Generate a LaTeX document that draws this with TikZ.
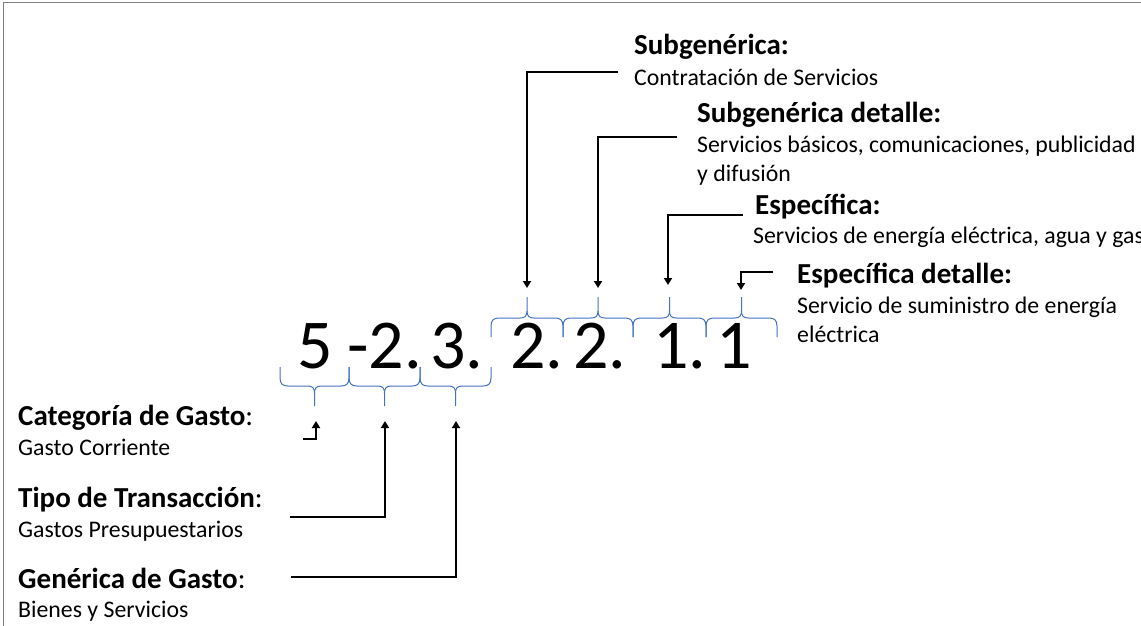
\documentclass[tikz,border=0pt]{standalone}
\usepackage{fontspec}
\setmainfont{Carlito}
\usetikzlibrary{arrows.meta}
\definecolor{braceblue}{HTML}{4472C4}
\definecolor{framegray}{HTML}{808080}
\tikzset{
  head/.style={anchor=base west, inner sep=0pt, font=\fontsize{29}{34}\selectfont\bfseries},
  desc/.style={anchor=base west, inner sep=0pt, font=\fontsize{23.8}{29}\selectfont},
  digit/.style={anchor=base west, inner sep=0pt, font=\fontsize{70}{82}\selectfont},
  pointer/.style={line width=2.4pt, -{Triangle[length=7pt,width=8pt]}},
  curly/.style={braceblue, line width=1pt},
}
% brace below the digits: #1 left end, #2 right end (tip points down)
\newcommand\lowerbrace[2]{%
  \draw[curly] (#1,367) -- (#1,378) .. controls (#1,384) and (#1+3,386) .. (#1+8,386)
    -- (#1/2+#2/2-7,386) .. controls (#1/2+#2/2-2,386) and (#1/2+#2/2,388) .. (#1/2+#2/2,393)
    -- (#1/2+#2/2,406);
  \draw[curly] (#2,367) -- (#2,378) .. controls (#2,384) and (#2-3,386) .. (#2-8,386)
    -- (#1/2+#2/2+7,386) .. controls (#1/2+#2/2+2,386) and (#1/2+#2/2,388) .. (#1/2+#2/2,393);
}
% brace above the digits: #1 left end, #2 right end (tip points up)
\newcommand\upperbrace[2]{%
  \draw[curly] (#1,337) -- (#1,326) .. controls (#1,320) and (#1+3,318) .. (#1+8,318)
    -- (#1/2+#2/2-7,318) .. controls (#1/2+#2/2-2,318) and (#1/2+#2/2,316) .. (#1/2+#2/2,311)
    -- (#1/2+#2/2,297);
  \draw[curly] (#2,337) -- (#2,326) .. controls (#2,320) and (#2-3,318) .. (#2-8,318)
    -- (#1/2+#2/2+7,318) .. controls (#1/2+#2/2+2,318) and (#1/2+#2/2,316) .. (#1/2+#2/2,311);
}
\begin{document}
\begin{tikzpicture}[x=1pt,y=-1pt]
\useasboundingbox (0,0) rectangle (1141,626);
\fill[white] (0,0) rectangle (1141,626);
% frame edges
\draw[framegray, line width=1.5pt] (3.5,626) -- (3.5,2.5) -- (1141,2.5);

% the account code
\node[digit] (d1) at (297,368) {5};
\node[digit] (d2) at (347,368) {-2.};
\node[digit] (d3) at (430,368) {3.};
\node[digit] (d4) at (510,368) {2.};
\node[digit] (d5) at (573,368) {2.};
\node[digit] (d6) at (653,368) {1.};
\node[digit] (d7) at (716,368) {1};

% braces grouping the digits
\lowerbrace{280}{349}
\lowerbrace{349}{420}
\lowerbrace{420}{491}
\upperbrace{491}{563}
\upperbrace{563}{633}
\upperbrace{633}{706}
\upperbrace{706}{777}

% upper labels
\node[head] (subg) at (634,55) {Subgenérica:};
\node[desc] (subgtxt) at (634,85) {Contratación de Servicios};
\node[head] (subgd) at (697,122) {Subgenérica detalle:};
\node[desc] (subgdtxt) at (697,152) {Servicios básicos, comunicaciones, publicidad};
\node[desc] (subgdtxt2) at (697,181) {y difusión};
\node[head] (esp) at (755,214) {Específica:};
\node[desc] (esptxt) at (753,243) {Servicios de energía eléctrica, agua y gas};
\node[head] (espd) at (797,283) {Específica detalle:};
\node[desc] (espdtxt) at (797,313) {Servicio de suministro de energía};
\node[desc] (espdtxt2) at (797,342) {eléctrica};

% lower labels
\node[head] (cat) at (18,425) {Categoría de Gasto\mdseries:};
\node[desc] (cattxt) at (18,455) {Gasto Corriente};
\node[head] (tipo) at (18,507) {Tipo de Transacción\mdseries:};
\node[desc] (tipotxt) at (18,537) {Gastos Presupuestarios};
\node[head] (gen) at (18,588) {Genérica de Gasto\mdseries:};
\node[desc] (gentxt) at (18,617) {Bienes y Servicios};

% pointer ends
\coordinate (p1s) at (618,72);  \coordinate (p1t) at (527,288);
\coordinate (p2s) at (677,137); \coordinate (p2t) at (598,288);
\coordinate (p3s) at (743,215); \coordinate (p3t) at (668,285);
\coordinate (p4s) at (773,272); \coordinate (p4t) at (741,290);
\coordinate (q1s) at (303,439); \coordinate (q1t) at (316,421);
\coordinate (q2s) at (290,517); \coordinate (q2t) at (385,421);
\coordinate (q3s) at (291,577); \coordinate (q3t) at (456,421);

\draw[pointer] (p1s) -| (p1t);
\draw[pointer] (p2s) -| (p2t);
\draw[pointer] (p3s) -| (p3t);
\draw[pointer] (p4s) -| (p4t);
\draw[pointer] (q1s) -| (q1t);
\draw[pointer] (q2s) -| (q2t);
\draw[pointer] (q3s) -| (q3t);
\end{tikzpicture}
\end{document}
